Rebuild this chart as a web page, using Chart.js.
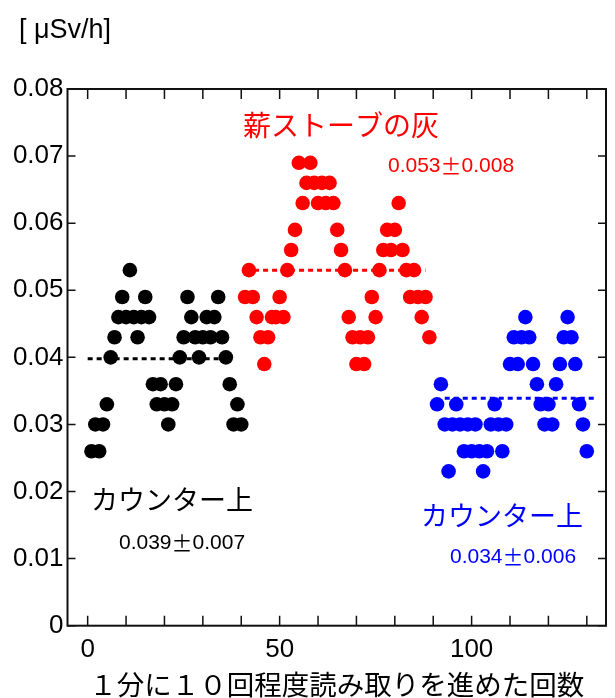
<!DOCTYPE html>
<html>
<head>
<meta charset="utf-8">
<script src="https://cdn.jsdelivr.net/npm/chart.js@4"></script>
<style>
  body { margin: 0; background: #fff; }
</style>
</head>
<body>
<canvas id="chart" width="615" height="698"></canvas>
<script>
// readings, one per count
const blackStart = 1;
const blackValues = [0.026, 0.030, 0.026, 0.030, 0.033, 0.040, 0.043, 0.046, 0.049, 0.046,
  0.053, 0.046, 0.043, 0.046, 0.049, 0.046, 0.036, 0.033, 0.036, 0.033,
  0.030, 0.033, 0.036, 0.040, 0.043, 0.049, 0.046, 0.043, 0.040, 0.043,
  0.046, 0.043, 0.046, 0.049, 0.043, 0.040, 0.036, 0.030, 0.033, 0.030];

const redStart = 41;
const redValues = [0.049, 0.053, 0.049, 0.046, 0.043, 0.039, 0.043, 0.046, 0.046, 0.049,
  0.046, 0.053, 0.056, 0.059, 0.069, 0.063, 0.066, 0.069, 0.066, 0.063,
  0.066, 0.063, 0.066, 0.063, 0.059, 0.056, 0.053, 0.046, 0.043, 0.039,
  0.043, 0.039, 0.043, 0.049, 0.046, 0.053, 0.056, 0.059, 0.056, 0.059,
  0.063, 0.056, 0.053, 0.049, 0.053, 0.049, 0.046, 0.049, 0.043];

const blueStart = 91;
const blueValues = [0.033, 0.036, 0.030, 0.023, 0.030, 0.033, 0.030, 0.026, 0.030, 0.026,
  0.030, 0.026, 0.023, 0.026, 0.030, 0.033, 0.030, 0.026, 0.030, 0.039,
  0.043, 0.039, 0.043, 0.046, 0.043, 0.039, 0.036, 0.033, 0.030, 0.033,
  0.030, 0.036, 0.039, 0.043, 0.046, 0.043, 0.039, 0.033, 0.030, 0.026];

// group averages (dashed lines)
const meanValues = [0.0398, 0.0530, 0.0339];
const meanFrom = [0, 41, 93];
const meanTo = [36.5, 88, 132];
const meanLabels = ["0.039±0.007", "0.053±0.008", "0.034±0.006"];
const groupNames = ["カウンター上", "薪ストーブの灰", "カウンター上"];

const xTicks = [0, 10, 20, 30, 40, 50, 60, 70, 80, 90, 100, 110, 120, 130];
const xLabelTicks = [0, 50, 100];
const yTicks = [0, 0.01, 0.02, 0.03, 0.04, 0.05, 0.06, 0.07, 0.08];
const yUnit = "[ μSv/h]";
const xTitle = "１分に１０回程度読み取りを進めた回数";

const colors = ["#000000", "#ff0000", "#0000ff"];
const latin = "'Liberation Sans', Arial, sans-serif";
const cjk = "'Noto Sans CJK JP', sans-serif";

function toPoints(start, values) {
  return values.map((v, i) => ({ x: start + i, y: v }));
}

const series = [
  toPoints(blackStart, blackValues),
  toPoints(redStart, redValues),
  toPoints(blueStart, blueValues)
];

const datasets = [];
meanValues.forEach((m, i) => {
  datasets.push({
    type: "line",
    data: [{ x: meanFrom[i], y: m }, { x: meanTo[i], y: m }],
    borderColor: colors[i],
    borderWidth: 3,
    borderDash: [5, 4],
    pointRadius: 0,
    order: 0
  });
});
series.forEach((pts, i) => {
  datasets.push({
    type: "scatter",
    data: pts,
    backgroundColor: colors[i],
    borderWidth: 0,
    pointRadius: 7.3,
    order: 1
  });
});

// "0.039±0.007" style note, the ± is the wide CJK glyph
function drawNote(ctx, text, x, y, size) {
  const parts = text.split("±");
  ctx.font = size + "px " + latin;
  ctx.fillText(parts[0], x, y);
  x += ctx.measureText(parts[0]).width;
  ctx.font = size + "px " + cjk;
  const pw = ctx.measureText("±").width;
  ctx.fillText("±", x + (size - pw) / 2, y);
  x += size;
  ctx.font = size + "px " + latin;
  ctx.fillText(parts[1], x, y);
}

// frame with inward ticks on all four sides, plus the text notes
const framePlugin = {
  id: "frame",
  afterDraw(chart) {
    const { ctx, chartArea: a, scales: { x, y } } = chart;
    ctx.save();
    ctx.strokeStyle = "#111";
    ctx.lineWidth = 2;
    ctx.strokeRect(a.left, a.top, a.right - a.left, a.bottom - a.top);
    ctx.lineWidth = 1.5;
    ctx.beginPath();
    xTicks.forEach(v => {
      const px = x.getPixelForValue(v);
      ctx.moveTo(px, a.bottom); ctx.lineTo(px, a.bottom - 10);
      ctx.moveTo(px, a.top); ctx.lineTo(px, a.top + 10);
    });
    yTicks.forEach(v => {
      const py = y.getPixelForValue(v);
      ctx.moveTo(a.left, py); ctx.lineTo(a.left + 8, py);
      ctx.moveTo(a.right, py); ctx.lineTo(a.right - 8, py);
    });
    ctx.stroke();

    ctx.textBaseline = "middle";
    ctx.textAlign = "left";
    ctx.fillStyle = "#000";
    ctx.font = "27px " + latin;
    ctx.fillText(yUnit, 19, 31);

    // black group
    ctx.fillStyle = colors[0];
    ctx.font = "27px " + cjk;
    ctx.fillText(groupNames[0], 91, 500);
    drawNote(ctx, meanLabels[0], 119, 543, 21);

    // red group
    ctx.fillStyle = colors[1];
    ctx.font = "28px " + cjk;
    ctx.fillText(groupNames[1], 243, 125);
    drawNote(ctx, meanLabels[1], 388, 166, 21);

    // blue group
    ctx.fillStyle = colors[2];
    ctx.font = "27px " + cjk;
    ctx.fillText(groupNames[2], 421, 516);
    drawNote(ctx, meanLabels[2], 450, 557, 21);
    ctx.restore();
  }
};

new Chart(document.getElementById("chart"), {
  data: { datasets },
  options: {
    responsive: false,
    animation: false,
    layout: { padding: { top: 89, right: 9, left: 0, bottom: 0 } },
    plugins: { legend: { display: false }, tooltip: { enabled: false } },
    scales: {
      x: {
        type: "linear",
        min: -5.25,
        max: 135,
        grid: { display: false, drawTicks: false },
        border: { display: false },
        afterBuildTicks: s => { s.ticks = xLabelTicks.map(v => ({ value: v })); },
        afterFit: s => { s.height = 72.3; },
        ticks: {
          autoSkip: false,
          maxRotation: 0,
          padding: 9,
          color: "#000",
          font: { family: latin, size: 26 }
        },
        title: {
          display: true,
          text: xTitle,
          color: "#000",
          padding: 0,
          font: { family: cjk, size: 27.5, lineHeight: 1 }
        }
      },
      y: {
        min: 0,
        max: 0.08,
        grid: { display: false, drawTicks: false },
        border: { display: false },
        afterBuildTicks: s => { s.ticks = yTicks.map(v => ({ value: v })); },
        afterFit: s => { s.width = 67.5; },
        ticks: {
          autoSkip: false,
          padding: 4,
          color: "#000",
          font: { family: latin, size: 26 },
          callback: v => (v === 0 ? "0" : v.toFixed(2))
        }
      }
    }
  },
  plugins: [framePlugin]
});
</script>
</body>
</html>
